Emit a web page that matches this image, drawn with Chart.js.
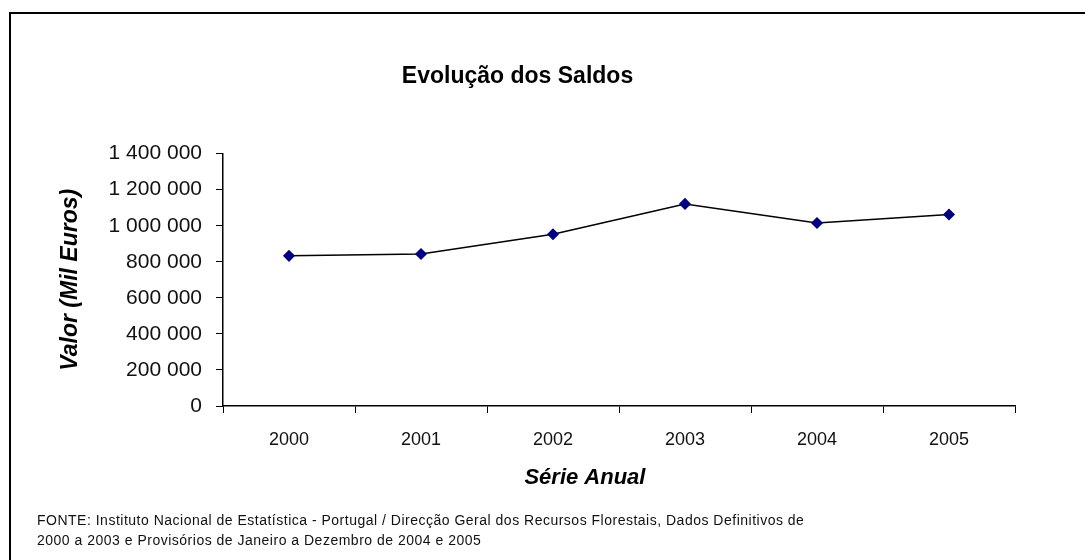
<!DOCTYPE html>
<html>
<head>
<meta charset="utf-8">
<script src="https://cdn.jsdelivr.net/npm/chart.js@4"></script>
<style>
    html, body { margin: 0; padding: 0; background: #fff; }
    body { width: 1085px; height: 560px; position: relative; overflow: hidden; }
    .frame {
        position: absolute; left: 9px; top: 12px; width: 1100px; height: 600px;
        border-left: 2px solid #000; border-top: 2px solid #000;
    }
    .chart-box { position: absolute; left: 0; top: 0; width: 1085px; height: 560px; }
    .source {
        position: absolute; left: 37px; top: 510px;
        font-family: "Liberation Sans", Arial, sans-serif; font-size: 14px;
        letter-spacing: 0.5px; line-height: 20px; color: #111;
    }
</style>
</head>
<body>
<div class="frame"></div>
<div class="chart-box"><canvas id="chart" width="1085" height="560"></canvas></div>
<div class="source">
    FONTE: Instituto Nacional de Estatística - Portugal / Direcção Geral dos Recursos Florestais, Dados Definitivos de<br>
    2000 a 2003 e Provisórios de Janeiro a Dezembro de 2004 e 2005
</div>
<script>
// DATA

const years = ["2000", "2001", "2002", "2003", "2004", "2005"];
const saldos = [833000, 843000, 953000, 1121000, 1015000, 1062000];
const yTickValues = [0, 200000, 400000, 600000, 800000, 1000000, 1200000, 1400000];
const xAxisTitle = "Série Anual";

// CHART

const fontFamily = "'Liberation Sans', Arial, sans-serif";

// "1400000" -> "1 400 000"
function formatThousands(value) {
    return String(value).replace(/\B(?=(\d{3})+(?!\d))/g, " ");
}

// x axis caption sits a bit left of the plot centre in the original
const xCaptionPlugin = {
    id: "xCaption",
    afterDraw(chart) {
        const { ctx, chartArea } = chart;
        ctx.save();
        ctx.font = "italic bold 22px " + fontFamily;
        ctx.fillStyle = "#000";
        ctx.textAlign = "center";
        ctx.textBaseline = "middle";
        ctx.fillText(xAxisTitle, chartArea.left + (chartArea.right - chartArea.left) * 0.457, chartArea.bottom + 72);
        ctx.restore();
    }
};

new Chart(document.getElementById("chart"), {
    type: "line",
    plugins: [xCaptionPlugin],
    data: {
        labels: years,
        datasets: [{
            data: saldos,
            borderColor: "#000",
            borderWidth: 1.5,
            pointStyle: "rectRot",
            pointRadius: 5,
            pointBackgroundColor: "#000080",
            pointBorderColor: "#000080",
            tension: 0,
        }]
    },
    options: {
        responsive: false,
        animation: false,
        events: [],
        layout: {
            padding: { left: 20, right: 70, top: 0, bottom: 0 },
        },
        scales: {
            x: {
                offset: true,
                afterFit: scale => {
                    scale.height = 154; // plot bottom at y=406
                },
                grid: {
                    display: true,
                    drawOnChartArea: false,
                    tickLength: 7,
                    tickColor: "#000",
                    offset: true,
                },
                border: { color: "#000", width: 1.5 },
                ticks: {
                    color: "#111",
                    padding: 16,
                    font: { family: fontFamily, size: 18 },
                },
            },
            y: {
                min: 0,
                max: 1400000,
                afterBuildTicks: scale => {
                    scale.ticks = yTickValues.map(v => ({ value: v }));
                },
                afterFit: scale => {
                    scale.width = 203;
                },
                grid: {
                    display: true,
                    drawOnChartArea: false,
                    tickLength: 7,
                    tickColor: "#000",
                },
                border: { color: "#000", width: 1.5 },
                ticks: {
                    color: "#111",
                    padding: 14,
                    font: { family: fontFamily, size: 21 },
                    callback: value => formatThousands(value),
                },
                title: {
                    display: true,
                    text: "Valor (Mil Euros)",
                    color: "#000",
                    padding: { top: 37, bottom: 0 },
                    font: { family: fontFamily, size: 23, weight: "bold", style: "italic" },
                },
            },
        },
        plugins: {
            legend: { display: false },
            tooltip: { enabled: false },
            title: {
                display: true,
                text: "Evolução dos Saldos",
                color: "#000",
                padding: { top: 63, bottom: 63 },
                font: { family: fontFamily, size: 23, weight: "bold" },
            },
        },
    },
});
</script>
</body>
</html>
